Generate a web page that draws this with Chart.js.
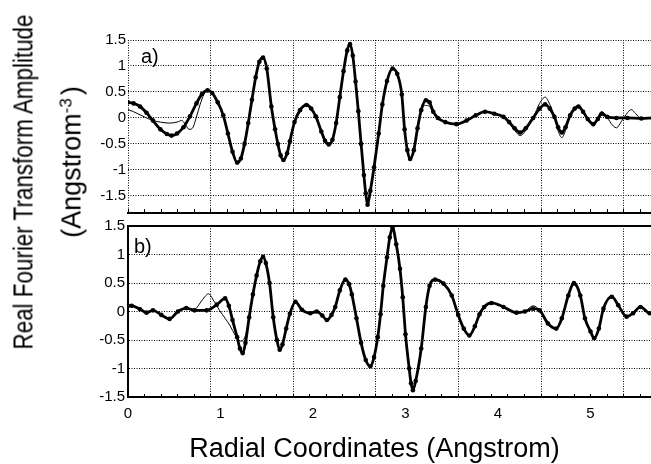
<!DOCTYPE html>
<html><head><meta charset="utf-8">
<script src="https://cdn.jsdelivr.net/npm/chart.js@4"></script>
<style>
html,body{margin:0;padding:0;background:#fff;overflow:hidden;width:651px;height:464px;}
#wrap{position:relative;width:651px;height:464px;overflow:hidden;background:#fff;}
canvas{position:absolute;left:0;}
#ca{top:0;}
#cb{top:214px;}
.t{position:absolute;font-family:"Liberation Sans",Arial,sans-serif;white-space:nowrap;color:#000;}
#yt1{left:24px;top:181.5px;font-size:27px;line-height:27px;transform:translate(-50%,-50%) rotate(-90deg) scale(0.83,1);}
#yt2{left:72px;top:161.5px;font-size:27px;line-height:27px;transform:translate(-50%,-50%) rotate(-90deg);}
#yt2 sup{font-size:17px;line-height:0;vertical-align:9px;margin-right:3px;}
#xt{left:374.5px;top:448px;font-size:27px;line-height:32px;transform:translate(-50%,-50%);}
</style></head>
<body><div id="wrap">
<canvas id="ca" width="680" height="225"></canvas>
<canvas id="cb" width="680" height="250"></canvas>
<div id="yt1" class="t">Real Fourier Transform Amplitude</div>
<div id="yt2" class="t">(Angstrom<sup>-3</sup>)</div>
<div id="xt" class="t">Radial Coordinates (Angstrom)</div>
</div>
<script>
// ---- tick labels ----
const xTickLabels = [0, 1, 2, 3, 4, 5];
const yTickValues = [-1.5, -1, -0.5, 0, 0.5, 1, 1.5];
const gridStep = 0.893;          // spacing of the dotted vertical grid lines (x units)
const xMin = 0, xMax = 5.8;
const aYMin = -1.83, aYMax = 1.5;
const bYMin = -1.5, bYMax = 1.5;

// ---- panel a) ----
const aThickX = [0.00,0.06,0.13,0.20,0.27,0.35,0.42,0.47,0.53,0.60,0.67,0.74,0.80,0.86,0.91,0.97,1.03,1.08,1.13,1.18,1.22,1.26,1.30,1.34,1.38,1.42,1.46,1.50,1.55,1.59,1.62,1.65,1.68,1.72,1.75,1.80,1.86,1.93,1.98,2.03,2.09,2.13,2.17,2.21,2.25,2.29,2.33,2.37,2.40,2.43,2.46,2.49,2.52,2.55,2.57,2.59,2.62,2.66,2.71,2.75,2.80,2.86,2.91,2.96,2.99,3.02,3.05,3.09,3.13,3.17,3.22,3.26,3.30,3.35,3.43,3.55,3.66,3.76,3.86,3.96,4.06,4.12,4.18,4.24,4.30,4.38,4.45,4.51,4.56,4.61,4.65,4.69,4.73,4.78,4.83,4.87,4.92,4.97,5.03,5.08,5.12,5.18,5.28,5.40,5.55,5.70,5.80];
const aThickY = [0.30,0.28,0.22,0.10,-0.05,-0.22,-0.31,-0.34,-0.30,-0.18,0.03,0.28,0.46,0.53,0.48,0.30,0.05,-0.30,-0.65,-0.86,-0.78,-0.50,-0.10,0.35,0.78,1.08,1.16,0.95,0.22,-0.22,-0.50,-0.72,-0.81,-0.68,-0.45,-0.08,0.15,0.25,0.18,0.03,-0.26,-0.44,-0.51,-0.42,-0.10,0.40,0.90,1.30,1.42,1.20,0.70,0.13,-0.50,-1.10,-1.45,-1.67,-1.40,-0.95,-0.30,0.26,0.71,0.95,0.85,0.45,-0.22,-0.62,-0.79,-0.62,-0.20,0.15,0.34,0.30,0.12,0.00,-0.08,-0.12,-0.05,0.05,0.12,0.08,0.02,-0.08,-0.20,-0.28,-0.20,0.00,0.18,0.26,0.18,0.02,-0.18,-0.28,-0.18,0.05,0.18,0.22,0.12,-0.02,-0.12,-0.02,0.08,0.02,0.00,0.00,-0.01,0.00,0.00];
const aThinX = [0.00,0.06,0.13,0.20,0.27,0.35,0.45,0.53,0.58,0.62,0.66,0.70,0.74,0.78,0.82,0.86,0.91,0.97,1.03,1.08,1.13,1.18,1.22,1.26,1.30,1.34,1.38,1.42,1.46,1.50,1.55,1.59,1.62,1.65,1.68,1.72,1.75,1.80,1.86,1.93,1.98,2.03,2.09,2.13,2.17,2.21,2.25,2.29,2.33,2.37,2.40,2.43,2.46,2.49,2.52,2.55,2.57,2.59,2.62,2.66,2.71,2.75,2.80,2.86,2.91,2.96,2.99,3.02,3.05,3.09,3.13,3.17,3.22,3.26,3.30,3.35,3.43,3.55,3.66,3.76,3.86,3.96,4.06,4.12,4.18,4.24,4.30,4.38,4.45,4.51,4.56,4.61,4.65,4.69,4.73,4.78,4.83,4.87,4.92,4.97,5.03,5.08,5.12,5.17,5.22,5.28,5.34,5.40,5.44,5.49,5.54,5.70,5.80];
const aThinY = [0.16,0.12,0.06,0.00,-0.05,-0.08,-0.10,-0.08,-0.05,-0.12,-0.22,-0.19,0.02,0.26,0.45,0.53,0.48,0.30,0.05,-0.30,-0.65,-0.86,-0.78,-0.50,-0.10,0.35,0.78,1.08,1.16,0.95,0.22,-0.22,-0.50,-0.72,-0.81,-0.68,-0.45,-0.08,0.15,0.25,0.18,0.03,-0.26,-0.44,-0.51,-0.42,-0.10,0.40,0.90,1.30,1.42,1.20,0.70,0.13,-0.50,-1.10,-1.45,-1.67,-1.40,-0.95,-0.30,0.26,0.71,0.95,0.85,0.45,-0.22,-0.62,-0.79,-0.62,-0.20,0.15,0.24,0.22,0.10,0.00,-0.08,-0.12,-0.05,0.05,0.12,0.08,0.02,-0.10,-0.24,-0.34,-0.24,0.00,0.28,0.40,0.26,0.02,-0.25,-0.38,-0.24,0.05,0.18,0.22,0.12,-0.02,-0.12,0.02,0.12,0.05,-0.10,-0.19,-0.05,0.10,0.16,0.08,0.00,0.00,0.00];

// ---- panel b) ----
const bThickX = [0.00,0.04,0.13,0.20,0.27,0.36,0.45,0.54,0.63,0.72,0.85,0.96,1.05,1.09,1.13,1.18,1.21,1.24,1.27,1.31,1.35,1.39,1.43,1.46,1.49,1.53,1.57,1.61,1.64,1.67,1.71,1.75,1.81,1.88,1.97,2.04,2.10,2.15,2.20,2.24,2.29,2.35,2.39,2.42,2.47,2.52,2.57,2.62,2.66,2.70,2.73,2.76,2.80,2.83,2.86,2.90,2.94,2.97,3.00,3.04,3.06,3.08,3.11,3.17,3.22,3.26,3.32,3.41,3.50,3.57,3.63,3.69,3.75,3.80,3.85,3.93,4.06,4.20,4.29,4.38,4.45,4.54,4.63,4.69,4.76,4.82,4.89,4.94,5.00,5.04,5.09,5.14,5.23,5.30,5.39,5.46,5.54,5.64,5.80];
const bThickY = [0.10,0.10,0.04,-0.02,0.02,-0.06,-0.13,0.00,0.06,0.02,0.02,0.12,0.23,0.10,-0.15,-0.45,-0.65,-0.73,-0.55,-0.10,0.30,0.63,0.88,0.96,0.85,0.50,-0.10,-0.50,-0.67,-0.58,-0.30,-0.04,0.17,0.03,-0.03,0.00,-0.07,-0.15,-0.06,0.08,0.37,0.56,0.48,0.30,-0.12,-0.55,-0.85,-0.96,-0.80,-0.45,-0.05,0.45,0.95,1.30,1.47,1.18,0.75,0.25,-0.40,-1.00,-1.26,-1.38,-1.22,-0.65,0.08,0.45,0.56,0.49,0.28,-0.06,-0.30,-0.42,-0.26,-0.05,0.08,0.15,0.08,-0.02,0.00,0.05,0.02,-0.21,-0.30,-0.12,0.28,0.50,0.28,-0.12,-0.35,-0.47,-0.30,0.05,0.26,0.11,-0.09,-0.03,0.08,-0.03,0.00];
const bThinX = [0.00,0.04,0.13,0.20,0.27,0.36,0.45,0.54,0.63,0.72,0.78,0.83,0.87,0.93,0.99,1.05,1.10,1.16,1.20,1.23,1.27,1.31,1.35,1.39,1.43,1.46,1.49,1.53,1.57,1.61,1.64,1.67,1.71,1.75,1.81,1.88,1.97,2.04,2.10,2.15,2.20,2.24,2.29,2.35,2.39,2.42,2.47,2.52,2.57,2.62,2.66,2.70,2.73,2.76,2.80,2.83,2.86,2.90,2.94,2.97,3.00,3.04,3.06,3.08,3.11,3.17,3.22,3.26,3.32,3.41,3.50,3.57,3.63,3.69,3.75,3.80,3.85,3.93,4.06,4.20,4.29,4.38,4.45,4.54,4.63,4.69,4.76,4.82,4.89,4.94,5.00,5.04,5.09,5.14,5.23,5.30,5.39,5.46,5.54,5.64,5.80];
const bThinY = [0.10,0.10,0.04,-0.02,0.02,-0.06,-0.13,0.00,0.05,0.04,0.15,0.26,0.31,0.18,0.02,-0.12,-0.24,-0.42,-0.51,-0.52,-0.42,-0.10,0.30,0.63,0.88,0.96,0.85,0.50,-0.10,-0.50,-0.67,-0.58,-0.30,-0.04,0.17,0.03,-0.03,0.00,-0.07,-0.15,-0.06,0.08,0.37,0.56,0.48,0.30,-0.12,-0.55,-0.85,-0.96,-0.80,-0.45,-0.05,0.45,0.95,1.30,1.47,1.18,0.75,0.25,-0.40,-1.00,-1.26,-1.38,-1.22,-0.65,0.08,0.45,0.56,0.49,0.28,-0.06,-0.30,-0.42,-0.26,-0.05,0.08,0.15,0.08,-0.02,0.00,0.10,0.02,-0.21,-0.30,-0.12,0.28,0.46,0.28,-0.12,-0.35,-0.47,-0.30,0.05,0.26,0.11,-0.09,-0.03,0.10,-0.03,0.00];

// ---- helpers ----
const FONT = '"Liberation Sans", Arial, sans-serif';
function pts(xs, ys) { const n = Math.min(xs.length, ys.length); const r = []; for (let i = 0; i < n; i++) r.push({x: xs[i], y: ys[i]}); return r; }
function gridTicks() { const t = []; for (let k = 0; k * gridStep / 5 <= xMax + 1e-9; k++) t.push({value: +(k * gridStep / 5).toFixed(4)}); return t; }

function thick(xs, ys) {
  return {data: pts(xs, ys), borderColor: '#000', backgroundColor: '#000', borderWidth: 2.8,
    pointRadius: 2.3, pointBackgroundColor: '#000', pointBorderWidth: 0, pointStyle: 'circle',
    cubicInterpolationMode: 'monotone', order: 1};
}
function thin(xs, ys) {
  return {data: pts(xs, ys), borderColor: '#000', borderWidth: 1, pointRadius: 0,
    cubicInterpolationMode: 'monotone', order: 2};
}
function gridAxis(tickLen) {
  return {type: 'linear', position: 'bottom', min: xMin, max: xMax, weight: 0,
    afterBuildTicks: s => { s.ticks = gridTicks(); },
    afterFit: s => { s.height = 0; },
    ticks: {display: false},
    grid: {display: true, drawOnChartArea: true, drawTicks: true, tickLength: tickLen,
      color: c => (c.index % 5 === 0) ? '#000' : 'rgba(0,0,0,0)', lineWidth: 1,
      tickColor: '#000', tickWidth: 1},
    border: {display: true, color: '#000', width: 2, dash: [1, 1.5]}};
}
const yLabel = v => String(v);
const panelLabel = {
  id: 'panelLabel',
  afterDatasetsDraw(chart, args, opts) {
    const {ctx, chartArea} = chart;
    ctx.save();
    ctx.font = '20px ' + FONT;
    ctx.fillStyle = '#000';
    ctx.textBaseline = 'alphabetic';
    ctx.textAlign = 'left';
    ctx.fillText(opts.text, chartArea.left + opts.dx, chartArea.top + opts.dy);
    ctx.restore();
  }
};

const common = {
  responsive: false, animation: false, devicePixelRatio: 1,
  plugins: {legend: {display: false}, tooltip: {enabled: false}},
  elements: {line: {tension: 0}}
};

// ---- chart a ----
new Chart(document.getElementById('ca'), {
  type: 'line',
  data: {datasets: [thick(aThickX, aThickY), thin(aThinX, aThinY)]},
  options: Object.assign({}, common, {
    layout: {padding: {left: 90, top: 40, right: 15.5, bottom: 12}},
    plugins: Object.assign({}, common.plugins, {panelLabel: {text: 'a)', dx: 13, dy: 23}}),
    scales: {
      x: gridAxis(-4),
      y: {type: 'linear', position: 'left', min: aYMin, max: aYMax,
        afterBuildTicks: s => { s.ticks = yTickValues.map(v => ({value: v})); },
        afterFit: s => { s.width = 38; },
        ticks: {color: '#000', font: {family: FONT, size: 15}, padding: 2, callback: yLabel},
        grid: {drawTicks: false, color: '#000', lineWidth: 1},
        border: {display: false, dash: [1, 1.5]}}
    }
  }),
  plugins: [panelLabel]
});

// ---- chart b ----
new Chart(document.getElementById('cb'), {
  type: 'line',
  data: {datasets: [thick(bThickX, bThickY), thin(bThinX, bThinY)]},
  options: Object.assign({}, common, {
    layout: {padding: {left: 80, top: 10, right: 15.5, bottom: 0}},
    plugins: Object.assign({}, common.plugins, {panelLabel: {text: 'b)', dx: 6, dy: 27}}),
    scales: {
      xg: gridAxis(-3),
      x: {type: 'linear', position: 'bottom', min: xMin, max: xMax, weight: 1,
        afterBuildTicks: s => { s.ticks = xTickLabels.map(v => ({value: v})); },
        afterFit: s => { s.height = 67; },
        ticks: {color: '#000', font: {family: FONT, size: 15}, padding: 8, callback: yLabel},
        grid: {display: false, drawTicks: false},
        border: {display: false}},
      y: {type: 'linear', position: 'left', min: bYMin, max: bYMax,
        afterBuildTicks: s => { s.ticks = yTickValues.map(v => ({value: v})); },
        afterFit: s => { s.width = 48; },
        ticks: {color: '#000', font: {family: FONT, size: 15}, padding: 3, callback: yLabel},
        grid: {drawTicks: false, color: '#000',
          lineWidth: c => (c.tick && c.tick.value === 1.5) ? 2 : 1},
        border: {display: true, color: '#000', width: 2,
          dash: c => (c.tick && c.tick.value === 1.5) ? [] : [1, 1.5]}}
    }
  }),
  plugins: [panelLabel]
});
</script>
</body></html>
